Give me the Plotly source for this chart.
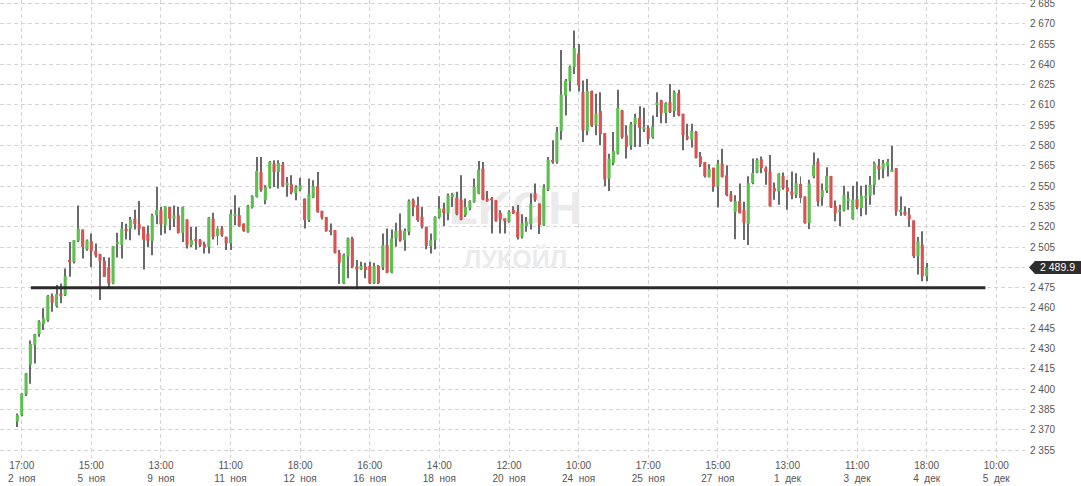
import plotly.graph_objects as go

# candle index (hourly bars, 10:00-18:00 sessions); 0 = 17:00 2 ноя
idx = list(range(-1, 209))

opens = [2376,2381,2396,2418,2432.6,2440.7,2448,2451,2468.8,2461.4,2470.7,2469.5,2495.3,2494,2509.6,2517.9,2503.2,2509.3,2502.2,2499.7,
 2494.8,2490,2478.1,2507.6,2506.4,2518.6,2518.6,2526,2521.8,2519.9,2515,2509.6,2528.5,2532.2,2521.1,2534.6,2526,2528.5,2515.5,2525.3,
 2506.4,2510,2510.1,2507.2,2505.2,2526,2513.1,2518.7,2512.6,2507.7,2528.3,2528.6,2522.4,2516.3,2534.2,2542.1,2560.5,2539.6,2549.4,2566.6,
 2560.5,2565.9,2550.7,2551.4,2545,2547.4,2540.8,2524.9,2541.6,2549.9,2531.8,2527.3,2517.5,2517.5,2500.8,2478.2,2497.9,2511.4,2490.5,2488.5,
 2490.5,2491.2,2478.2,2491,2490,2506.5,2486.1,2511.4,2517.5,2510.1,2516.3,2539.6,2535.9,2527.3,2520,2505.7,2510.1,2526.9,2533.5,2529.8,
 2542.6,2541.6,2540.1,2528.6,2533.5,2538.4,2544.5,2563,2540.8,2541,2539.6,2530.3,2526.1,2523.7,2532.3,2531,2512.6,2520.5,2521.9,2544.5,
 2537.2,2521.2,2547.5,2569.1,2567.9,2590.7,2617,2627.6,2638,2648,2619.5,2590.7,2620.2,2594.9,2605.5,2589.3,2555.6,2567.2,2574,2606,
 2587.6,2580.2,2595.7,2600.6,2592.5,2593.2,2586.3,2610.5,2613.4,2604,2612.1,2605.5,2618.8,2603.5,2586.8,2584.3,2590,2572.1,2567.9,2556.8,
 2563.7,2550,2566.7,2558,2544,2531,2538.9,2532.3,2522,2552.4,2560.1,2569.9,2563.3,2560.8,2548.6,2546.1,2557.6,2549,2546.1,2543.6,
 2551.7,2542.4,2522.8,2557.2,2568.2,2542,2546.6,2557.6,2535.5,2531.1,2532.1,2539.5,2525.7,2540.4,2533.8,2541.2,2542.9,2551,2565,2562.6,
 2565,2560.8,2563.3,2531.5,2531.3,2528.9,2524.7,2498.2,2506.8,2483.4]

highs = [2382,2397,2412,2436,2441,2451,2459.7,2469.5,2470.7,2476.9,2478,2489.2,2508.8,2510,2535.8,2518,2510.5,2515,2507.6,2500,
 2497.7,2497.3,2505.6,2515.5,2523.6,2522.3,2527.2,2532.6,2539,2520,2521,2529.7,2549.4,2534.6,2535.1,2534.6,2535.8,2534.6,2535,2525.5,
 2519.9,2520,2511,2508.9,2527.3,2530.3,2520.5,2520.5,2512.6,2532.7,2543.3,2534.2,2522.4,2536,2543.3,2571.6,2571.6,2550.7,2568.6,2569.1,
 2569.1,2567.9,2556.8,2558,2550.7,2556.3,2540.8,2555.6,2554.4,2560.5,2531.8,2527.3,2522.4,2517.5,2502.8,2500.3,2512.1,2512.6,2495.4,2494.2,
 2493.4,2494.2,2493.4,2491.8,2515,2518.7,2518,2522.9,2529.8,2518.7,2540.1,2540.8,2542.1,2534.7,2520,2515,2527.8,2542.6,2537.7,2544.5,
 2545,2545.8,2558,2540.8,2539.6,2555.6,2568.6,2567.9,2546.5,2542,2539.6,2532.3,2526.1,2532.3,2535.2,2536,2529.3,2527.3,2544.5,2551.9,
 2537.2,2551.4,2571.6,2583.9,2593.7,2650.7,2629.3,2639.1,2665,2655,2628.1,2629.3,2620.7,2618.3,2619.5,2589.3,2574,2590,2621.2,2606.5,
 2595,2597.4,2603.5,2609,2608,2595,2602.3,2619.5,2613.8,2612,2625.6,2620.7,2621.2,2603.5,2596.2,2596.2,2590.7,2575.3,2567.9,2566.2,
 2563.7,2569.6,2577.7,2565.4,2546.5,2543.3,2551.9,2538.4,2557.3,2570.4,2570.7,2571.9,2564.5,2573.1,2552.7,2559.6,2560.1,2554.7,2560.8,2559.6,
 2557.2,2542.4,2554.7,2574.8,2570.7,2552,2564,2557.6,2539.5,2536.3,2550.3,2546.1,2550.3,2553.5,2550.3,2551,2557.6,2568.2,2570,2569.4,
 2570,2579.8,2563.3,2542.4,2535,2533.8,2524.7,2512.4,2516.6,2493.3]

lows = [2372,2380,2395,2404,2419,2438.8,2443.7,2449.8,2457.2,2460.4,2463.4,2468.8,2483,2492.9,2508.8,2496.5,2502.2,2490,2497.3,2465.8,
 2483,2475.2,2477.6,2497.3,2496.5,2510.5,2510,2517.9,2513.7,2488.4,2505.1,2499,2521.8,2513.7,2515,2517.4,2519.9,2515,2508.8,2503.9,
 2505.1,2503,2505,2500.3,2500.3,2510.6,2506.4,2512.6,2502.8,2502.8,2521.2,2520,2516.3,2515.6,2533.5,2541.6,2545.8,2536.7,2548.2,2549.4,
 2548.2,2549.4,2542.1,2544,2539.6,2546.2,2518.7,2523.6,2541,2530.3,2525.4,2516.3,2513.8,2500.3,2477.7,2477.7,2481.9,2489.3,2473.8,2488,
 2481.9,2477.7,2477.7,2477.7,2488,2485.6,2485.6,2505.2,2508.9,2502.3,2513.8,2527.8,2523.7,2518.7,2503.3,2500.3,2503.3,2526.1,2520.5,2524.9,
 2534.7,2528.6,2524.9,2527.3,2532.3,2537.7,2544,2539.6,2538.4,2515,2523.7,2515,2515,2523,2529.5,2510.6,2511.4,2516.3,2518,2538.4,
 2514.6,2520.5,2546.5,2566.6,2566.6,2584.3,2602.3,2620,2633,2620,2582.6,2587.6,2593.7,2587.6,2580.2,2550,2546.5,2565.4,2573.5,2585.1,
 2570.4,2577,2579,2579,2590,2581,2585.1,2601.1,2596.6,2596.6,2604,2601.1,2601.6,2576.5,2583.9,2578.5,2570.4,2564.2,2556.4,2556.4,
 2545.8,2534.2,2556.4,2542.6,2538.5,2510.7,2529.8,2510.2,2506.5,2551.4,2559.6,2559.6,2551,2535,2540,2536.3,2547.3,2532.6,2540.4,2541.2,
 2537.5,2522.3,2518.3,2555.9,2535,2535.5,2544.9,2533.8,2524,2520.3,2531.3,2532.6,2525.2,2533,2527.7,2528.9,2536.3,2543.6,2554.7,2555.9,
 2557.2,2560.8,2528.2,2528.2,2528.2,2519.8,2497,2484.7,2479.8,2479.8]

closes = [2381,2396.5,2411.8,2433.4,2440.7,2449.8,2452.3,2468.8,2463.9,2470.2,2469.5,2483.5,2494,2510,2518.6,2505.1,2510,2502.2,2499,2494.8,
 2483,2478.1,2505.6,2508.8,2518.6,2517.4,2525.3,2521.8,2518.6,2510.5,2509.6,2528.5,2532.6,2521.8,2535.1,2526,2528.5,2515.5,2534.6,2506.4,
 2510,2509.6,2506.4,2504.7,2526.8,2512.6,2518.7,2513.8,2507.7,2529.3,2529.3,2520.5,2517,2535.2,2542.6,2561.2,2547,2549.4,2567.9,2560.5,
 2567.1,2550.2,2552.4,2545.3,2549.4,2550.7,2524.9,2544,2549.9,2531,2526.8,2517,2516.3,2500.8,2493.4,2499.1,2511.4,2490.5,2488.5,2491,
 2488,2478.2,2491,2478.2,2506.4,2486.1,2511.4,2517,2509.7,2517,2539.1,2534.7,2524.9,2520.5,2505.7,2510.1,2527.3,2533.5,2530.3,2543.3,
 2544,2529.3,2525.4,2534.7,2539.1,2549.5,2562.2,2540.1,2539.6,2539.5,2524.4,2525.4,2524.9,2531,2529.8,2512.1,2522.4,2523.7,2536.7,2540.1,
 2521.2,2549,2569.6,2567.9,2590,2617.8,2628,2638.4,2652,2624.4,2591.2,2620.2,2594.9,2603.5,2588.3,2554.9,2570.4,2576,2608,2586.3,
 2579,2595.7,2600.6,2593.2,2593.7,2585.1,2594.2,2611.7,2604,2611.4,2604.8,2619.5,2602.3,2587.6,2585.1,2590.7,2571.1,2566.2,2557.3,2563,
 2549.5,2566.7,2556.8,2543.3,2539.2,2538.9,2530.3,2522.9,2552.4,2559.8,2569.4,2563.3,2560.8,2535,2546.1,2559.1,2548.6,2546.1,2543.6,2552.2,
 2541.2,2522.8,2552.2,2565.7,2538.7,2547,2557.6,2534.5,2530.1,2532.6,2543.6,2540.9,2540,2534.5,2542.9,2542.9,2551,2567,2562.6,2567,
 2568.2,2562,2531.3,2532.6,2528.9,2525.7,2498.2,2509.2,2483.4,2489.9]

tick_pos = [0, 16, 32, 48, 64, 80, 96, 112, 128, 144, 160, 176, 192, 208, 224]
tick_time = ["17:00", "15:00", "13:00", "11:00", "18:00", "16:00", "14:00", "12:00",
             "10:00", "17:00", "15:00", "13:00", "11:00", "18:00", "10:00"]
tick_day = ["2  ноя", "5  ноя", "9  ноя", "11  ноя", "12  ноя", "16  ноя", "18  ноя", "20  ноя",
            "24  ноя", "25  ноя", "27  ноя", "1  дек", "3  дек", "4  дек", "5  дек"]

price_ticks = list(range(2355, 2700, 15))
level_x = [2.1, 221.5]
level_price = 2475
last_price = closes[-1]

GREEN = "#5cbf4f"
RED = "#d65454"
FONT = "Liberation Sans, Arial, sans-serif"

base = [min(o, c) for o, c in zip(opens, closes)]
hgt = [max(abs(c - o), 0.9) for o, c in zip(opens, closes)]
cols = [GREEN if c >= o else RED for o, c in zip(opens, closes)]
wick_len = [h - l for h, l in zip(highs, lows)]

fig = go.Figure()

# wicks (thin bars), then bodies on top
fig.add_trace(go.Bar(x=idx, y=wick_len, base=lows, width=0.23,
                     marker=dict(color="#6a6a6a", line=dict(width=0)),
                     hoverinfo="skip", showlegend=False))
fig.add_trace(go.Bar(x=idx, y=hgt, base=base, width=0.72,
                     marker=dict(color=cols, line=dict(width=0)),
                     hoverinfo="skip", showlegend=False))

fig.add_trace(go.Scatter(x=level_x, y=[level_price, level_price], mode="lines",
                         line=dict(color="#2b2b2b", width=3),
                         hoverinfo="skip", showlegend=False))

# watermark drawn between grid and candles
fig.add_shape(type="rect", xref="x", yref="y", x0=90, x1=137, y0=2524, y1=2550,
              line=dict(width=0), fillcolor="rgba(0,0,0,0)", layer="between",
              label=dict(text="LKOH", textposition="middle center",
                         font=dict(size=47, color="#ebebeb", family=FONT, weight=700)))
fig.add_shape(type="rect", xref="x", yref="y", x0=90, x1=137, y0=2491, y1=2504,
              line=dict(width=0), fillcolor="rgba(0,0,0,0)", layer="between",
              label=dict(text="ЛУКОЙЛ", textposition="middle center",
                         font=dict(size=25, color="#ebebeb", family=FONT, weight=700)))

PW = 1025.0
ppu = 458.0 / (2687.6 - 2349.1)
hh = 6.5 / ppu
fig.add_shape(type="path", xref="paper", yref="y",
              path=(f"M {1029/PW} {last_price} L {1035/PW} {last_price+hh} "
                    f"L {1081/PW} {last_price+hh} L {1081/PW} {last_price-hh} "
                    f"L {1035/PW} {last_price-hh} Z"),
              fillcolor="#2e2e2e", line=dict(width=0), layer="above")
fig.add_annotation(xref="paper", yref="y", x=1057.5/PW, y=last_price, xanchor="center",
                   yanchor="middle", text=f"{last_price:,.1f}".replace(",", " "), showarrow=False,
                   font=dict(color="white", size=10.5, family=FONT))

fig.update_layout(
    width=1081, height=486,
    margin=dict(l=0, r=56, t=0, b=28, autoexpand=False),
    paper_bgcolor="white", plot_bgcolor="white",
    barmode="overlay",
    hovermode=False,
    font=dict(family=FONT, size=10, color="#555"),
)
fig.update_xaxes(
    range=[-4.99, 230.6], tickmode="array", tickvals=tick_pos,
    ticktext=[f"{t}<br>{d}" for t, d in zip(tick_time, tick_day)],
    showgrid=True, gridcolor="#d4d4d4", griddash="4px,3px", gridwidth=1,
    zeroline=False, showline=False, ticks="", automargin=False,
    tickfont=dict(size=10, color="#555"),
)
fig.update_yaxes(
    side="right", range=[2349.1, 2687.6], tickmode="array", tickvals=price_ticks,
    ticktext=["" if v == 2490 else f"{v:,}".replace(",", " ") for v in price_ticks],
    showgrid=True, gridcolor="#d4d4d4", griddash="4px,3px", gridwidth=1,
    zeroline=False, showline=False, ticks="", ticklabelstandoff=4, automargin=False,
    ticklabeloverflow="allow",
    tickfont=dict(size=10, color="#555"),
)

fig.write_html("out.html", config={"displayModeBar": False},
               post_script="document.body.style.margin='0';")
